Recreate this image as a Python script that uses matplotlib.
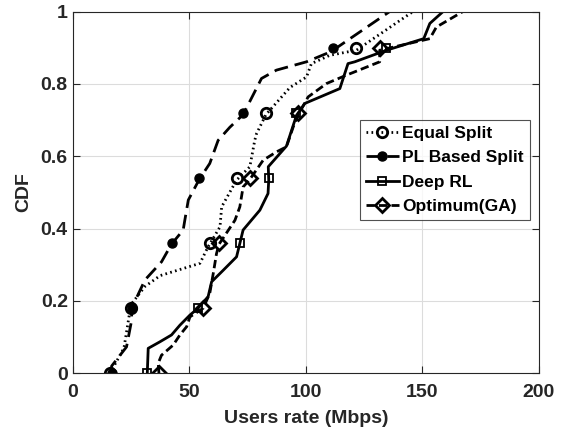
import matplotlib
matplotlib.use("Agg")
import matplotlib.pyplot as plt

# CDF curves (rate in Mbps, CDF value)
equal_x = [16, 22, 24, 25, 31, 37.5, 54.6, 58.1, 58.8, 63.2, 63.9, 70.3, 76, 78.1, 78.9, 82.9, 93.2,
           100.3, 102.4, 110.3, 121.7, 146]
equal_y = [0, 0.07, 0.15, 0.19, 0.24, 0.27, 0.304, 0.35, 0.357, 0.405, 0.46, 0.534, 0.571, 0.644, 0.663,
           0.715, 0.79, 0.819, 0.856, 0.879, 0.893, 1.0]

pl_x = [16.7, 16.7, 23.1, 25.3, 25.3, 31, 38.1, 42.4, 47.4, 48.1, 49.6, 54.3, 58.8, 62.4, 67.4, 73.1,
        81, 87.4, 100.3, 108.9, 111.7, 136]
pl_y = [0, 0.02, 0.073, 0.147, 0.18, 0.258, 0.308, 0.357, 0.396, 0.423, 0.479, 0.536, 0.58, 0.644, 0.68,
        0.715, 0.815, 0.838, 0.861, 0.884, 0.893, 1.0]

rl_x = [32, 32.4, 37.4, 42.4, 46, 50.3, 53.8, 58.1, 59.6, 64.6, 70.3, 71.7, 73.1, 80.3, 83.8, 84.1,
        83.9, 91.7, 96, 99.6, 114.6, 118.1, 121, 134.6, 150.6, 153.2, 158.9]
rl_y = [0, 0.069, 0.087, 0.106, 0.133, 0.161, 0.18, 0.212, 0.253, 0.285, 0.322, 0.359, 0.396, 0.451,
        0.497, 0.534, 0.571, 0.628, 0.713, 0.746, 0.787, 0.856, 0.861, 0.893, 0.925, 0.967, 1.0]

ga_x = [37, 36.7, 38.1, 43.1, 46, 48.9, 50.3, 56, 58.8, 60.3, 61.7, 62.8, 69.6, 71.7, 73.1, 76, 81.7,
        87.4, 91.7, 94.6, 96.7, 101, 108.9, 117.4, 131.7, 131.7, 153.2, 156, 167.4]
ga_y = [0, 0.028, 0.05, 0.078, 0.106, 0.129, 0.156, 0.18, 0.221, 0.276, 0.331, 0.357, 0.423, 0.46,
        0.515, 0.536, 0.589, 0.612, 0.626, 0.681, 0.714, 0.764, 0.801, 0.824, 0.861, 0.893, 0.925, 0.957, 1.0]

# marker positions (every 0.18 of the CDF)
mark_y = [0, 0.18, 0.36, 0.54, 0.72, 0.90]
equal_mx = [16, 25, 58.8, 70.3, 82.9, 121.7]
pl_mx = [16.7, 25.3, 42.4, 54.3, 73.1, 111.7]
rl_mx = [32, 53.8, 71.7, 84.1, 96, 134.6]
ga_mx = [37, 56, 62.8, 76, 96.7, 131.7]

plt.rcParams['font.family'] = ['Liberation Sans', 'DejaVu Sans']
plt.rcParams['font.weight'] = 'bold'

fig = plt.figure(figsize=(5.7, 4.38), dpi=100)
ax = fig.add_axes([0.1275, 0.1477, 0.818, 0.826])

txt = '#262626'
lw = 2

ax.plot(equal_x, equal_y, color='black', lw=lw, linestyle=(0, (0.6, 1.2)))
ax.plot(pl_x, pl_y, color='black', lw=lw, linestyle=(0, (5, 2.5)))
ax.plot(rl_x, rl_y, color='black', lw=lw, linestyle='-')
ax.plot(ga_x, ga_y, color='black', lw=lw, linestyle=(0, (3, 1.5)))

ax.plot(equal_mx, mark_y, 'o', ms=7.5, mfc='none', mec='black', mew=2)
ax.plot(pl_mx, mark_y, 'o', ms=6.5, mfc='black', mec='black')
ax.plot(rl_mx, mark_y, 's', ms=5.5, mfc='none', mec='black', mew=1.3)
ax.plot(ga_mx, mark_y, 'D', ms=7, mfc='none', mec='black', mew=2)

# legend proxies: line + marker together
h1, = ax.plot([], [], color='black', lw=lw, linestyle=(0, (0.6, 1.2)), marker='o', ms=7.5, mfc='none', mew=2)
h2, = ax.plot([], [], color='black', lw=lw, linestyle=(0, (5, 2.5)), marker='o', ms=6.5, mfc='black')
h3, = ax.plot([], [], color='black', lw=lw, linestyle='-', marker='s', ms=5.5, mfc='none', mew=1.3)
h4, = ax.plot([], [], color='black', lw=lw, linestyle=(0, (3, 1.5)), marker='D', ms=7, mfc='none', mew=2)
leg = ax.legend([h1, h2, h3, h4], ['Equal Split', 'PL Based Split', 'Deep RL', 'Optimum(GA)'],
                loc='upper left', bbox_to_anchor=(0.616, 0.70), fontsize=12.5, frameon=True,
                fancybox=False, edgecolor=txt, handlelength=1.9, handletextpad=0.2,
                borderpad=0.35, labelspacing=0.52, borderaxespad=0)
leg.get_frame().set_linewidth(0.8)
for t in leg.get_texts():
    t.set_fontweight('bold')
    t.set_color('black')

ax.set_xlim(0, 200)
ax.set_ylim(0, 1)
ax.set_xticks([0, 50, 100, 150, 200])
ax.set_yticks([0, 0.2, 0.4, 0.6, 0.8, 1])
ax.set_yticklabels(['0', '0.2', '0.4', '0.6', '0.8', '1'])
ax.grid(True, color='#dcdcdc', linewidth=0.8)
ax.set_axisbelow(True)
ax.tick_params(direction='in', top=True, right=True, length=5, width=0.8, colors=txt, labelsize=14)
ax.tick_params(axis='x', pad=8)
for lab in ax.get_xticklabels() + ax.get_yticklabels():
    lab.set_fontweight('bold')
for s in ax.spines.values():
    s.set_color(txt)
    s.set_linewidth(0.8)

ax.set_xlabel('Users rate (Mbps)', fontsize=14, fontweight='bold', color=txt, labelpad=6)
ax.set_ylabel('CDF', fontsize=14, fontweight='bold', color=txt, labelpad=6)

fig.savefig('out.png', dpi=100)
